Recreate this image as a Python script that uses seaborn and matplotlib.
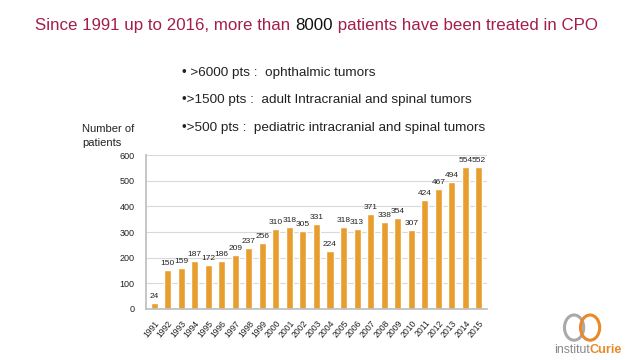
import numpy as np
import pandas as pd
import seaborn as sns
import matplotlib.pyplot as plt
from matplotlib.patches import Ellipse

years = [str(y) for y in range(1991, 2016)]
patients = [24, 150, 159, 187, 172, 186, 209, 237, 256, 310, 318, 305, 331,
            224, 318, 313, 371, 338, 354, 307, 424, 467, 494, 554, 552]
bullets = [" >6000 pts :  ophthalmic tumors",
           ">1500 pts :  adult Intracranial and spinal tumors",
           ">500 pts :  pediatric intracranial and spinal tumors"]

df = pd.DataFrame({'year': years, 'patients': patients})

sns.set_theme(style='whitegrid')
plt.rcParams['font.family'] = ['Liberation Sans', 'DejaVu Sans']

fig = plt.figure(figsize=(6.4, 3.6), dpi=100)
ax = fig.add_axes([0.228, 0.142, 0.533, 0.427])

sns.barplot(data=df, x='year', y='patients', color='#E89D2F', saturation=1,
            width=0.52, ax=ax)

for i, v in enumerate(patients):
    ax.text(i, v + 12, str(v), ha='center', va='bottom', fontsize=6.0, color='#222222')

ax.set_ylim(0, 600)
ax.set_yticks(range(0, 601, 100))
ax.set_xlim(-0.6, len(years) - 0.4)
ax.set_xlabel('')
ax.set_ylabel('')
ax.grid(axis='y', color='#d9d9d9', linewidth=0.8)
ax.grid(axis='x', visible=False)
for s in ['top', 'right']:
    ax.spines[s].set_visible(False)
ax.spines['left'].set_color('#bfbfbf')
ax.spines['bottom'].set_color('#bfbfbf')
ax.tick_params(axis='y', labelsize=6.5, pad=2, colors='#222222')
ax.tick_params(axis='x', labelsize=6.2, pad=1, colors='#222222')
plt.setp(ax.get_xticklabels(), rotation=50, ha='right', rotation_mode='anchor')

fig.text(0.128, 0.588, 'Number of\npatients', fontsize=8, color='#222222',
         ha='left', va='bottom', linespacing=1.6)

# title
fig.text(0.055, 0.93, 'Since 1991 up to 2016, more than ', fontsize=12.2,
         color='#A31E4B', ha='left', va='center')
fig.canvas.draw()
bb = fig.texts[-1].get_window_extent()
fig.text(bb.x1 / 640, 0.93, '8000', fontsize=12.2, color='#111111', ha='left', va='center')
fig.canvas.draw()
bb2 = fig.texts[-1].get_window_extent()
fig.text(bb2.x1 / 640, 0.93, ' patients have been treated in CPO', fontsize=12.2,
         color='#A31E4B', ha='left', va='center')

for k, b in enumerate(bullets):
    fig.text(0.284, 0.797 - k * 0.076, '\u2022' + b, fontsize=9.7,
             color='#222222', ha='left', va='center')

# logo
fig.patches.append(Ellipse((0.897, 0.09), 0.03, 0.07, transform=fig.transFigure,
                           fill=False, edgecolor='#a9a9a9', linewidth=2.2))
fig.patches.append(Ellipse((0.922, 0.09), 0.03, 0.07, transform=fig.transFigure,
                           fill=False, edgecolor='#E8892C', linewidth=2.2))
fig.text(0.866, 0.028, 'institut', fontsize=8.8, color='#888888', ha='left', va='center')
fig.canvas.draw()
bb3 = fig.texts[-1].get_window_extent()
fig.text(bb3.x1 / 640, 0.028, 'Curie', fontsize=9.2, color='#E8892C', ha='left',
         va='center', weight='bold')

fig.savefig('out.png', dpi=100)
